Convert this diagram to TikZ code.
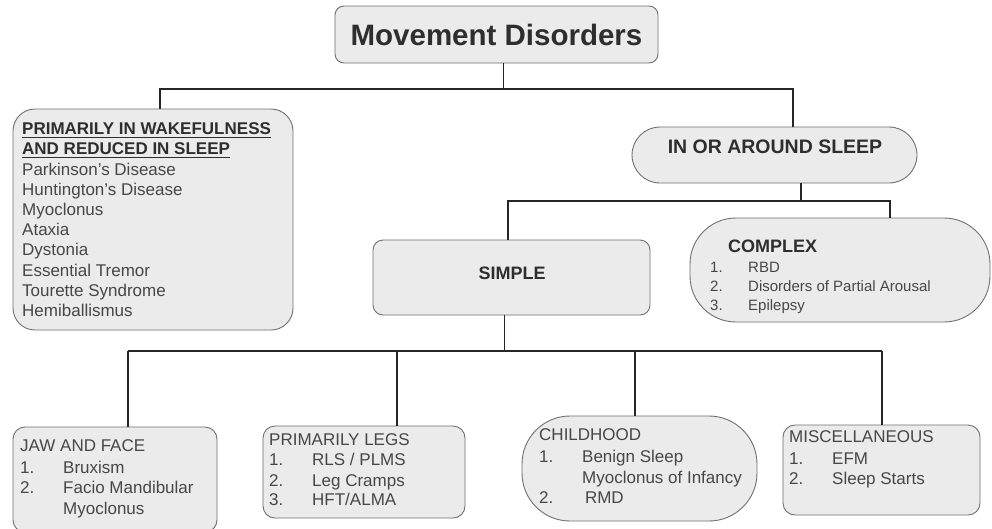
\documentclass[tikz,border=0pt]{standalone}
\usepackage{fontspec}
\setmainfont{Liberation Sans}
\definecolor{boxline}{HTML}{707070}
\definecolor{boxfill}{HTML}{EBEBEB}
\definecolor{linkcol}{HTML}{262626}
\definecolor{txtcol}{HTML}{474747}
\definecolor{headcol}{HTML}{2E2E2E}
\newcommand{\numrow}[3][43pt]{\makebox[#1][l]{#2}#3}
\tikzset{
  box/.style={draw=boxline, fill=boxfill, line width=0.9pt, inner sep=0pt},
  link/.style={draw=linkcol, line width=2.2pt},
  thinlink/.style={draw=linkcol, line width=1pt},
  item/.style={anchor=mid west, inner sep=0pt, text=txtcol, font=\fontsize{17}{20}\selectfont},
  smallitem/.style={item, font=\fontsize{15}{18}\selectfont},
  head/.style={inner sep=0pt, text=headcol, font=\bfseries\fontsize{18}{22}\selectfont},
}
\begin{document}
\begin{tikzpicture}[x=1pt, y=-1pt]
  \clip (0,0) rectangle (992,528);
  \fill[white] (0,0) rectangle (992,528);
  % top level
  \node[box, rounded corners=9pt, minimum width=323pt, minimum height=57pt,
        text=headcol, font=\bfseries\fontsize{29.5}{33}\selectfont] (title) at (496.5,34.5) {Movement Disorders};
  \node[box, rounded corners=22pt, minimum width=280pt, minimum height=221pt] (wake) at (153,219.5) {};
  \node[box, rounded corners=28pt, minimum width=285pt, minimum height=56pt] (sleep) at (774.5,155) {};
  \node[head, font=\bfseries\fontsize{19.5}{22}\selectfont] (sleep-t) at (775,147) {IN OR AROUND SLEEP};
  % second level
  \node[box, rounded corners=10pt, minimum width=277pt, minimum height=75pt] (simple) at (511.5,277.5) {};
  \node[head] (simple-t) at (512,273) {SIMPLE};
  \node[box, rounded corners=46pt, minimum width=300pt, minimum height=104pt] (complex) at (840,270) {};
  % bottom row
  \node[box, rounded corners=12pt, minimum width=204pt, minimum height=105pt] (jaw) at (115,479.5) {};
  \node[box, rounded corners=12pt, minimum width=202pt, minimum height=92pt] (legs) at (364,472) {};
  \node[box, rounded corners=48pt, minimum width=235pt, minimum height=105pt] (child) at (639.5,468.5) {};
  \node[box, rounded corners=12pt, minimum width=197pt, minimum height=90pt] (misc) at (881.5,470) {};

  % wakefulness list
  \node[item, text=headcol, font=\bfseries\fontsize{17}{20}\selectfont] (wake-h1) at (22,132) {PRIMARILY IN WAKEFULNESS};
  \node[item, text=headcol, font=\bfseries\fontsize{17}{20}\selectfont] (wake-h2) at (22,152) {AND REDUCED IN SLEEP};
  \draw[headcol, line width=1.6pt] ([yshift=-2.5pt]wake-h1.south west) -- ([yshift=-2.5pt]wake-h1.south east);
  \draw[headcol, line width=1.6pt] ([yshift=-2.5pt]wake-h2.south west) -- ([yshift=-2.5pt]wake-h2.south east);
  \foreach \i/\name in {0/{Parkinson's Disease}, 1/{Huntington's Disease}, 2/Myoclonus, 3/Ataxia,
      4/Dystonia, 5/{Essential Tremor}, 6/{Tourette Syndrome}, 7/Hemiballismus}
    \node[item] (wake-\i) at (22,172.5+20.2*\i) {\name};

  % complex list
  \node[head, anchor=mid west] (complex-h) at (728,250) {COMPLEX};
  \foreach \i/\y/\name in {1/270/RBD, 2/289/{Disorders of Partial Arousal}, 3/308/Epilepsy}
    \node[smallitem] (complex-\i) at (710,\y) {\numrow[38pt]{\i.}{\name}};

  % jaw and face
  \node[item] (jaw-h) at (20,449) {JAW AND FACE};
  \node[item] (jaw-1) at (20,471) {\numrow{1.}{Bruxism}};
  \node[item] (jaw-2) at (20,491) {\numrow{2.}{Facio Mandibular}};
  \node[item] (jaw-3) at (63,512) {Myoclonus};

  % primarily legs
  \node[item] (legs-h) at (269,443) {PRIMARILY LEGS};
  \foreach \i/\y/\name in {1/463/{RLS / PLMS}, 2/484/{Leg Cramps}, 3/503/{HFT/ALMA}}
    \node[item] (legs-\i) at (269,\y) {\numrow{\i.}{\name}};

  % childhood
  \node[item] (child-h) at (539,438) {CHILDHOOD};
  \node[item] (child-1) at (539,460) {\numrow{1.}{Benign Sleep}};
  \node[item] (child-2) at (582,481) {Myoclonus of Infancy};
  \node[item] (child-3) at (539,501) {\numrow{2.}{\,RMD}};

  % miscellaneous
  \node[item] (misc-h) at (789,440) {MISCELLANEOUS};
  \foreach \i/\y/\name in {1/462/EFM, 2/482/{Sleep Starts}}
    \node[item] (misc-\i) at (789,\y) {\numrow{\i.}{\name}};

  % connectors
  \coordinate (top-m) at (503,89);
  \coordinate (top-l) at (160,89);
  \coordinate (top-r) at (793,89);
  \draw[thinlink] (title.south -| top-m) -- (top-m);
  \draw[link] (wake.north -| top-l) -- (top-l) -- (top-r) -- (sleep.north -| top-r);

  \coordinate (mid-m) at (801,201);
  \coordinate (mid-l) at (508,201);
  \coordinate (mid-r) at (890,201);
  \draw[link] (sleep.south -| mid-m) -- (mid-m);
  \draw[link] (simple.north -| mid-l) -- (mid-l) -- (mid-r) -- (complex.north -| mid-r);

  \coordinate (low-m) at (504,351);
  \draw[thinlink] (simple.south -| low-m) -- (low-m);
  \coordinate (low-1) at (128,351);
  \coordinate (low-2) at (397,351);
  \coordinate (low-3) at (635,351);
  \coordinate (low-4) at (882,351);
  \draw[link] (low-1) -- (low-4);
  \foreach \b/\k in {jaw/1, legs/2, child/3, misc/4}
    \draw[link] (\b.north -| low-\k) -- (low-\k);
\end{tikzpicture}
\end{document}
